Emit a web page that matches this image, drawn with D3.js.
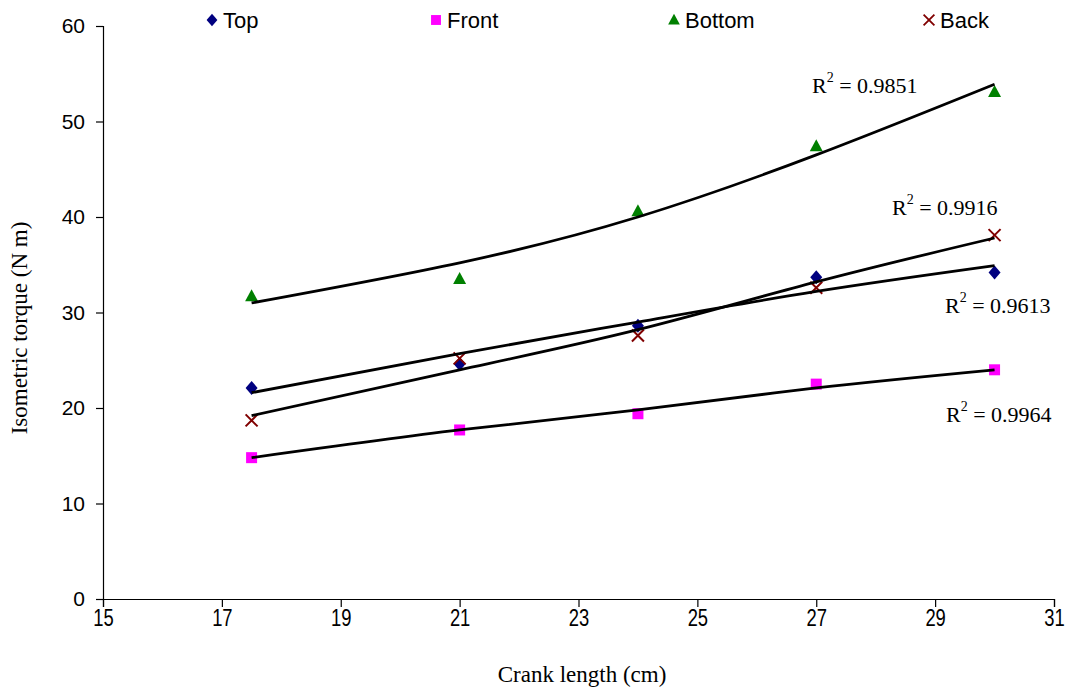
<!DOCTYPE html>
<html>
<head>
<meta charset="utf-8">
<script src="https://cdn.jsdelivr.net/npm/d3@7"></script>
<style>
  body { margin: 0; background: #fff; }
  .tick text { font-family: "Liberation Sans", Arial, sans-serif; fill: #000; }
</style>
</head>
<body>
<svg id="chart" width="1073" height="691"></svg>
<script>
// crank lengths (cm) where torque was measured
var crankLength = [17.5, 21, 24, 27, 30];

// isometric torque (N m) per handle position
var torqueTop = [22.1, 24.6, 28.6, 33.7, 34.2];
var torqueFront = [14.8, 17.7, 19.4, 22.5, 24.0];
var torqueBottom = [31.7, 33.5, 40.6, 47.4, 53.1];
var torqueBack = [18.7, 25.2, 27.6, 32.6, 38.1];

// trendline values at each crank length
var trendTop = [21.6, 25.7, 29.0, 32.2, 34.9];
var trendFront = [14.8, 17.7, 19.8, 22.1, 24.0];
var trendBottom = [31.0, 35.2, 40.0, 46.5, 53.9];
var trendBack = [19.2, 24.0, 28.2, 33.2, 37.8];

// fit quality labels
var seriesNames = ["Top", "Front", "Bottom", "Back"];
var r2Values = ["0.9613", "0.9964", "0.9851", "0.9916"];

// axis ticks
var xTicks = [15, 17, 19, 21, 23, 25, 27, 29, 31];
var yTicks = [0, 10, 20, 30, 40, 50, 60];


var svg = d3.select("#chart");

var x = d3.scaleLinear().domain([15, 31]).range([103, 1054]);
var y = d3.scaleLinear().domain([0, 60]).range([599, 26]);

// series settings (colour, symbol, where the R2 label sits)
var series = [
	{ name: seriesNames[0], values: torqueTop, trend: trendTop, r2: r2Values[0], color: "#000080", shape: "diamond", lx: 945, ly: 313 },
	{ name: seriesNames[1], values: torqueFront, trend: trendFront, r2: r2Values[1], color: "#ff00ff", shape: "square", lx: 946, ly: 422 },
	{ name: seriesNames[2], values: torqueBottom, trend: trendBottom, r2: r2Values[2], color: "#008000", shape: "triangle", lx: 812, ly: 93 },
	{ name: seriesNames[3], values: torqueBack, trend: trendBack, r2: r2Values[3], color: "#800000", shape: "cross", lx: 892, ly: 215 }
];

// draw a marker of the given shape into a selection
function drawMarker(g, shape, color) {
	switch (shape) {
		case "diamond":
			g.append("path").attr("d", "M0,-7L6,0L0,7L-6,0Z").attr("fill", color);
			break;
		case "square":
			g.append("rect").attr("x", -5.5).attr("y", -5.5).attr("width", 11).attr("height", 11).attr("fill", color);
			break;
		case "triangle":
			g.append("path").attr("d", "M0,-7L6.5,5L-6.5,5Z").attr("fill", color);
			break;
		case "cross":
			g.append("path").attr("d", "M-6,-6L6,6M-6,6L6,-6").attr("stroke", color).attr("stroke-width", 2).attr("fill", "none");
			break;
	};
};

// axes
var yAxis = svg.append("g")
	.attr("transform", "translate(" + x(15) + ",0)")
	.call(d3.axisLeft(y).tickValues(yTicks).tickSize(7).tickPadding(11).tickFormat(d3.format("d")));
yAxis.selectAll(".tick text").attr("font-size", 21);

var xAxis = svg.append("g")
	.attr("transform", "translate(0," + y(0) + ")")
	.call(d3.axisBottom(x).tickValues(xTicks).tickSize(8).tickPadding(3).tickFormat(d3.format("d")));
xAxis.selectAll(".tick text")
	.attr("font-size", 23)
	.attr("transform", "scale(0.8,1)");

[xAxis, yAxis].forEach(function (a) {
	a.select(".domain").attr("stroke", "#000").attr("stroke-width", 1.2);
	a.selectAll(".tick line").attr("stroke", "#000").attr("stroke-width", 1.2);
});

// axis titles
svg.append("text")
	.attr("x", 582).attr("y", 682)
	.attr("text-anchor", "middle")
	.attr("font-family", "Liberation Serif, Times New Roman, serif")
	.attr("font-size", 23)
	.text("Crank length (cm)");
svg.append("text")
	.attr("transform", "translate(27,328) rotate(-90)")
	.attr("text-anchor", "middle")
	.attr("font-family", "Liberation Serif, Times New Roman, serif")
	.attr("font-size", 23)
	.text("Isometric torque (N m)");

// markers
series.forEach(function (s) {
	var g = svg.append("g");
	s.values.forEach(function (v, i) {
		var m = g.append("g").attr("transform", "translate(" + x(crankLength[i]) + "," + y(v) + ")");
		drawMarker(m, s.shape, s.color);
	});
});

// trendlines
var line = d3.line()
	.x(function (d, i) { return x(crankLength[i]); })
	.y(function (d) { return y(d); })
	.curve(d3.curveNatural);
series.forEach(function (s) {
	svg.append("path")
		.attr("d", line(s.trend))
		.attr("fill", "none")
		.attr("stroke", "#000")
		.attr("stroke-width", 2.8)
		.attr("stroke-linejoin", "round");
});

// R2 labels
series.forEach(function (s) {
	var t = svg.append("text")
		.attr("x", s.lx).attr("y", s.ly)
		.attr("font-family", "Liberation Serif, Times New Roman, serif")
		.attr("font-size", 22);
	t.append("tspan").text("R");
	t.append("tspan").attr("dy", -11).attr("font-size", 14).text("2");
	t.append("tspan").attr("dy", 11).text(" = " + s.r2);
});

// legend
var legendX = [212, 436, 674, 929];
series.forEach(function (s, i) {
	var g = svg.append("g").attr("transform", "translate(" + legendX[i] + ",20)");
	drawMarker(g.append("g").attr("transform", "scale(0.9)"), s.shape, s.color);
	g.append("text")
		.attr("x", 11).attr("y", 8)
		.attr("font-family", "Liberation Sans, Arial, sans-serif")
		.attr("font-size", 22)
		.text(s.name);
});
</script>
</body>
</html>
